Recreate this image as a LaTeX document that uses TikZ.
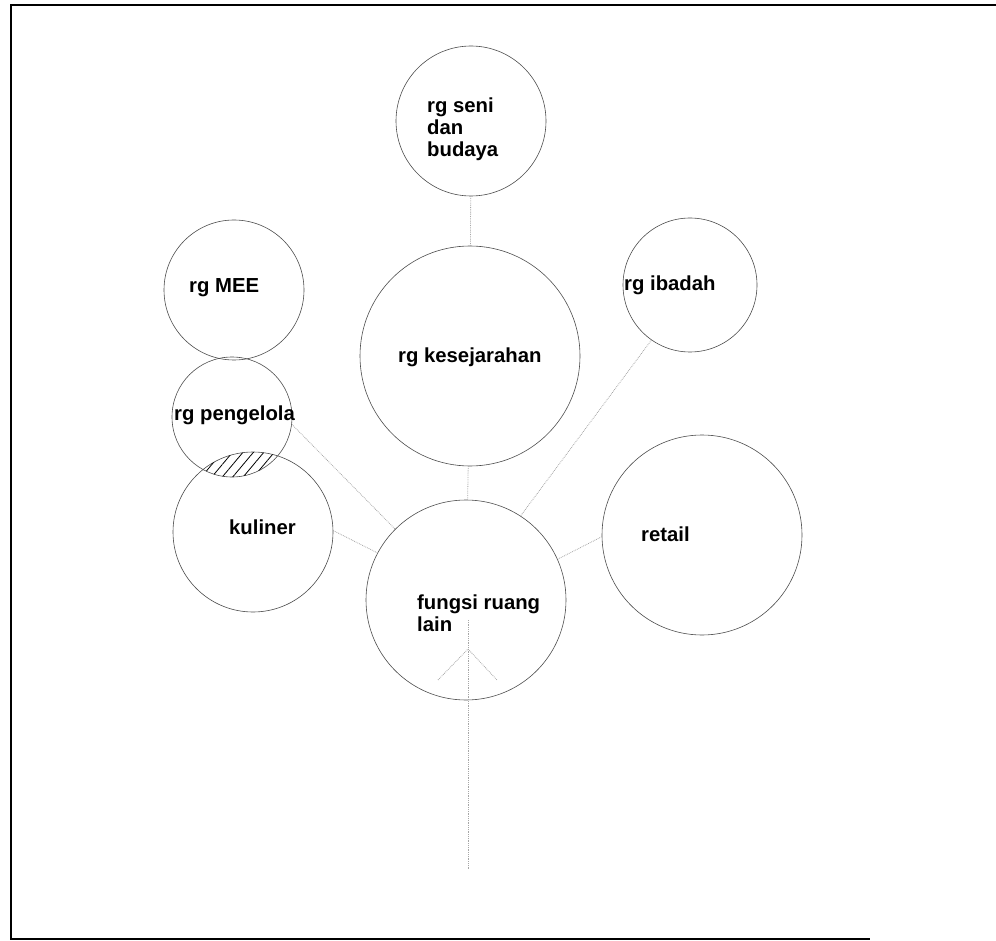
\documentclass[tikz,border=0pt]{standalone}
\usepackage{fontspec}
\setmainfont{Liberation Sans}
\usetikzlibrary{patterns.meta}
\begin{document}
\begin{tikzpicture}[x=1pt,y=-1pt,
  circ/.style={circle,draw=black!70,line width=0.6pt,inner sep=0pt,minimum size=#1},
  lbl/.style={anchor=base west,inner sep=0pt,font=\fontsize{20.3}{22}\selectfont\bfseries},
  conn/.style={draw=black!35,densely dotted,line width=0.8pt},
  frameline/.style={line width=2.2pt}]
\useasboundingbox (0,0) rectangle (996,941);
\draw[frameline] (996,5) -- (11,5) -- (11,939) -- (870,939);
% circles
\node[circ=150pt] (seni) at (471,121) {};
\node[circ=140pt] (mee) at (234,290) {};
\node[circ=120pt] (peng) at (232,417) {};
\node[circ=160pt] (kul) at (253,532) {};
\node[circ=220pt] (kes) at (470,356) {};
\node[circ=134pt] (ibadah) at (690,285) {};
\node[circ=200pt] (retail) at (702,535) {};
\node[circ=200pt] (fungsi) at (466,600) {};
% hatched overlap
\begin{scope}
  \clip (peng.center) circle (60);
  \fill[pattern={Lines[angle=50,distance=8pt,line width=0.8pt]}] (kul.center) circle (80);
\end{scope}
% connectors
\coordinate (fin) at (468,620);
\coordinate (bot) at (468,870);
\coordinate (chL) at (438,680);
\coordinate (chT) at (468,649);
\coordinate (chR) at (497,680);
\draw[conn] (seni) -- (kes);
\draw[conn] (kes) -- (fungsi);
\draw[conn] (fin) -- (bot);
\draw[conn] (peng.-7) -- (fungsi.135);
\draw[conn] (kul.1) -- (fungsi.152);
\draw[conn] (fungsi.24) -- (retail.181);
\draw[conn] (ibadah.235) -- (fungsi.57);
\draw[conn] (chL) -- (chT) -- (chR);
% labels
\node[lbl] (seniA) at (427,113) {rg seni};
\node[lbl] (seniB) at (427,135) {dan};
\node[lbl] (seniC) at (427,157) {budaya};
\node[lbl] (meeT) at (189,293) {rg MEE};
\node[lbl] (kesT) at (398,362) {rg kesejarahan};
\node[lbl] (ibT) at (624,291) {rg ibadah};
\node[lbl] (pengT) at (174,420) {rg pengelola};
\node[lbl] (kulT) at (229,534) {kuliner};
\node[lbl] (retT) at (641,541) {retail};
\node[lbl] (fungA) at (417,609) {fungsi ruang};
\node[lbl] (fungB) at (417,631) {lain};
\end{tikzpicture}
\end{document}
